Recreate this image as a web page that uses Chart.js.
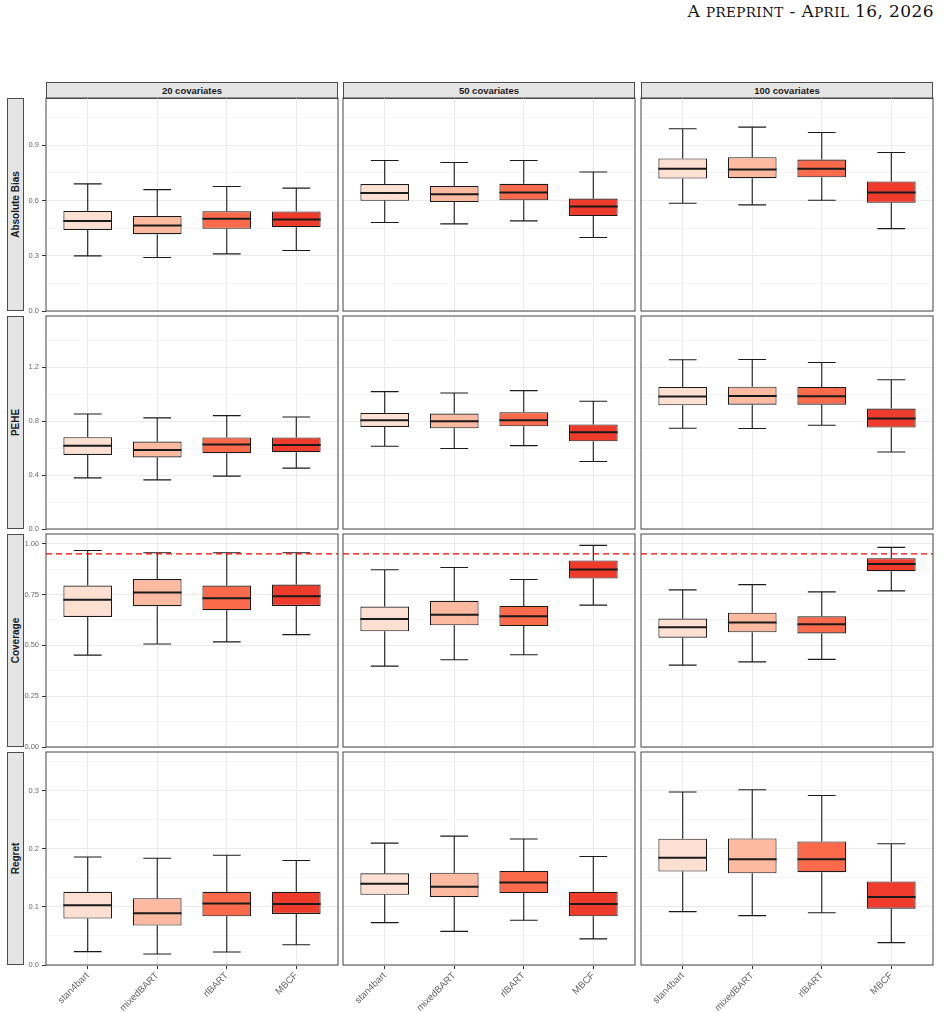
<!DOCTYPE html>
<html lang="en">
<head>
  <meta charset="UTF-8">
  <title>Boxplots by metric and number of covariates</title>
  <script src="https://cdn.jsdelivr.net/npm/chart.js"></script>
  <style>
        body {
            margin: 0;
            width: 943px;
            height: 1013px;
            background-color: #ffffff;
            position: relative;
            overflow: hidden;
            font-family: "Liberation Sans", Arial, sans-serif;
        }

        .header {
            position: absolute;
            right: 9px;
            top: 3px;
            font-family: "DejaVu Serif", "Liberation Serif", serif;
            font-size: 17px;
            letter-spacing: 0.4px;
            line-height: 1;
            color: #111;
            white-space: nowrap;
        }
        .header .sc { font-size: 13.5px; }

        .strip {
            position: absolute;
            box-sizing: border-box;
            background-color: #e5e5e5;
            border: 1px solid #4d4d4d;
            color: #1a1a1a;
            font-weight: bold;
            display: flex;
            align-items: center;
            justify-content: center;
            white-space: nowrap;
        }

        .strip.col { font-size: 9.5px; }
        .strip.row span {
            font-size: 10px;
            transform: rotate(-90deg);
        }

        canvas { position: absolute; }
    </style>
</head>
<body>
<div class="header">A <span class="sc">PREPRINT</span> - A<span class="sc">PRIL</span> 16, 2026</div>
<script>
    const methods = ['stan4bart', 'mixedBART', 'rlBART', 'MBCF'];
    const covariates = ['20 covariates', '50 covariates', '100 covariates'];
    const metrics = ['Absolute Bias', 'PEHE', 'Coverage', 'Regret'];
    const fills = ['#FEE0D2', '#FCBBA1', '#FB6A4A', '#EF3B2C'];

    // y axis per metric
    const yMax = [1.156, 1.578, 1.048, 0.367];
    const yTicks = [[0, 0.3, 0.6, 0.9], [0, 0.4, 0.8, 1.2], [0, 0.25, 0.5, 0.75, 1], [0, 0.1, 0.2, 0.3]];
    const yTickLabels = [['0.0', '0.3', '0.6', '0.9'], ['0.0', '0.4', '0.8', '1.2'],
                         ['0.00', '0.25', '0.50', '0.75', '1.00'], ['0.0', '0.1', '0.2', '0.3']];
    const coverageTarget = 0.95;

    // [lower whisker, q1, median, q3, upper whisker] per method
    const absBias20  = [[0.299, 0.440, 0.489, 0.543, 0.690], [0.290, 0.417, 0.464, 0.516, 0.659], [0.310, 0.446, 0.500, 0.542, 0.676], [0.328, 0.455, 0.496, 0.540, 0.667]];
    const absBias50  = [[0.480, 0.598, 0.641, 0.689, 0.817], [0.473, 0.591, 0.634, 0.678, 0.806], [0.489, 0.601, 0.643, 0.690, 0.817], [0.399, 0.515, 0.567, 0.610, 0.754]];
    const absBias100 = [[0.585, 0.719, 0.772, 0.828, 0.989], [0.576, 0.721, 0.768, 0.835, 0.998], [0.601, 0.726, 0.772, 0.822, 0.969], [0.447, 0.587, 0.643, 0.703, 0.860]];

    const pehe20  = [[0.379, 0.549, 0.616, 0.680, 0.852], [0.364, 0.530, 0.586, 0.648, 0.823], [0.392, 0.562, 0.626, 0.678, 0.840], [0.451, 0.569, 0.623, 0.678, 0.830]];
    const pehe50  = [[0.613, 0.756, 0.806, 0.860, 1.018], [0.596, 0.746, 0.798, 0.855, 1.008], [0.618, 0.761, 0.806, 0.865, 1.025], [0.500, 0.650, 0.717, 0.774, 0.946]];
    const pehe100 = [[0.746, 0.916, 0.981, 1.052, 1.254], [0.744, 0.921, 0.985, 1.054, 1.256], [0.769, 0.921, 0.983, 1.052, 1.234], [0.571, 0.752, 0.818, 0.892, 1.106]];

    const coverage20  = [[0.452, 0.640, 0.724, 0.794, 0.967], [0.507, 0.693, 0.760, 0.826, 0.956], [0.517, 0.673, 0.732, 0.794, 0.956], [0.553, 0.694, 0.742, 0.799, 0.956]];
    const coverage50  = [[0.398, 0.569, 0.630, 0.691, 0.872], [0.429, 0.599, 0.651, 0.719, 0.883], [0.454, 0.595, 0.643, 0.694, 0.824], [0.698, 0.829, 0.873, 0.918, 0.992]];
    const coverage100 = [[0.403, 0.538, 0.589, 0.632, 0.773], [0.419, 0.564, 0.612, 0.661, 0.799], [0.431, 0.559, 0.604, 0.643, 0.763], [0.768, 0.865, 0.900, 0.929, 0.982]];

    const regret20  = [[0.023, 0.080, 0.103, 0.126, 0.186], [0.019, 0.068, 0.089, 0.115, 0.184], [0.0225, 0.084, 0.106, 0.126, 0.189], [0.035, 0.088, 0.105, 0.126, 0.180]];
    const regret50  = [[0.073, 0.121, 0.140, 0.158, 0.210], [0.058, 0.117, 0.135, 0.159, 0.222], [0.077, 0.124, 0.142, 0.162, 0.217], [0.045, 0.084, 0.105, 0.126, 0.187]];
    const regret100 = [[0.092, 0.161, 0.185, 0.2175, 0.298], [0.085, 0.158, 0.182, 0.218, 0.302], [0.090, 0.160, 0.182, 0.213, 0.292], [0.0386, 0.097, 0.117, 0.144, 0.209]];

    const panels = [
        [absBias20, absBias50, absBias100],
        [pehe20, pehe50, pehe100],
        [coverage20, coverage50, coverage100],
        [regret20, regret50, regret100]
    ];

    // facet geometry
    const colLeft = [46, 343, 641];
    const rowTop = [98, 316, 534, 752];
    const panelW = 292, panelH = 213;
    const yAxisW = 23, xAxisH = 48, pad = 6;

    // whiskers, caps, medians, reference line, panel border
    const boxPlugin = {
        id: 'boxWhiskers',
        afterDatasetsDraw(chart) {
            const ctx = chart.ctx;
            const xs = chart.scales.x, ys = chart.scales.y;
            const ds = chart.data.datasets[0];
            const meta = chart.getDatasetMeta(0);
            ctx.save();
            ctx.strokeStyle = '#1a1a1a';
            meta.data.forEach((bar, i) => {
                const s = ds.data[i].stats;
                const x = bar.x;
                const half = bar.width / 2;
                ctx.lineWidth = 1.1;
                ctx.beginPath();
                ctx.moveTo(x, ys.getPixelForValue(s[3]));
                ctx.lineTo(x, ys.getPixelForValue(s[4]));
                ctx.moveTo(x, ys.getPixelForValue(s[1]));
                ctx.lineTo(x, ys.getPixelForValue(s[0]));
                const cl = xs.getPixelForValue(i - 0.2), cr = xs.getPixelForValue(i + 0.2);
                [s[0], s[4]].forEach(v => {
                    const y = ys.getPixelForValue(v);
                    ctx.moveTo(cl, y);
                    ctx.lineTo(cr, y);
                });
                ctx.stroke();
                ctx.lineWidth = 2;
                ctx.beginPath();
                const ym = ys.getPixelForValue(s[2]);
                ctx.moveTo(x - half, ym);
                ctx.lineTo(x + half, ym);
                ctx.stroke();
            });
            if (chart.options.refLine !== undefined) {
                const y = ys.getPixelForValue(chart.options.refLine);
                ctx.strokeStyle = '#ff0000';
                ctx.lineWidth = 1.3;
                ctx.setLineDash([6, 4]);
                ctx.beginPath();
                ctx.moveTo(chart.chartArea.left, y);
                ctx.lineTo(chart.chartArea.right, y);
                ctx.stroke();
                ctx.setLineDash([]);
            }
            const a = chart.chartArea;
            ctx.strokeStyle = '#444444';
            ctx.lineWidth = 1;
            ctx.strokeRect(a.left, a.top, a.right - a.left, a.bottom - a.top);
            ctx.restore();
        }
    };

    function addStrip(cls, left, top, width, height, text) {
        const d = document.createElement('div');
        d.className = 'strip ' + cls;
        d.style.left = left + 'px';
        d.style.top = top + 'px';
        d.style.width = width + 'px';
        d.style.height = height + 'px';
        const sp = document.createElement('span');
        sp.textContent = text;
        d.appendChild(sp);
        document.body.appendChild(d);
    }

    covariates.forEach((c, j) => addStrip('col', colLeft[j], 82, panelW, 17, c));
    metrics.forEach((m, r) => addStrip('row', 7, rowTop[r], 17, panelH, m));

    function drawPanel(r, j) {
        const stats = panels[r][j];
        const leftCol = j === 0;
        const bottomRow = r === metrics.length - 1;
        const leftSpace = leftCol ? yAxisW : pad;
        const canvas = document.createElement('canvas');
        const w = leftSpace + panelW + pad;
        const h = pad + panelH + (bottomRow ? xAxisH : pad);
        canvas.width = w;
        canvas.height = h;
        canvas.style.left = (colLeft[j] - leftSpace) + 'px';
        canvas.style.top = (rowTop[r] - pad) + 'px';
        document.body.appendChild(canvas);

        const majors = yTicks[r];
        const step = majors[1] - majors[0];
        const minors = majors.map(v => v + step / 2).filter(v => v < yMax[r]);

        new Chart(canvas.getContext('2d'), {
            type: 'bar',
            data: {
                datasets: [{
                    data: stats.map((s, i) => ({ x: i, y: [s[1], s[3]], stats: s })),
                    backgroundColor: fills,
                    borderColor: '#1a1a1a',
                    borderWidth: 1.1,
                    borderSkipped: false,
                    barPercentage: 0.7,
                    categoryPercentage: 1
                }]
            },
            options: {
                responsive: false,
                animation: false,
                refLine: r === 2 ? coverageTarget : undefined,
                layout: {
                    padding: { top: pad, right: pad, left: leftCol ? 0 : pad, bottom: bottomRow ? 0 : pad }
                },
                plugins: {
                    legend: { display: false },
                    tooltip: { enabled: false }
                },
                scales: {
                    x: {
                        type: 'linear',
                        offset: false,
                        min: -0.6,
                        max: methods.length - 0.4,
                        afterBuildTicks: s => { s.ticks = methods.map((m, i) => ({ value: i })); },
                        afterFit: s => {
                            s.height = bottomRow ? xAxisH : 0;
                            s.paddingLeft = s.paddingRight = s.paddingTop = s.paddingBottom = 0;
                        },
                        ticks: {
                            display: bottomRow,
                            autoSkip: false,
                            maxRotation: 45,
                            minRotation: 45,
                            padding: 1,
                            color: '#666666',
                            font: { family: 'Liberation Sans', size: 9.5 },
                            callback: v => methods[v]
                        },
                        grid: {
                            offset: false,
                            color: '#ebebeb',
                            lineWidth: 1,
                            drawTicks: bottomRow,
                            tickLength: 4,
                            tickColor: '#333333'
                        },
                        border: { display: false }
                    },
                    y: {
                        min: 0,
                        max: yMax[r],
                        afterBuildTicks: s => {
                            s.ticks = majors.map(v => ({ value: v }))
                                .concat(minors.map(v => ({ value: v, minor: true })))
                                .sort((a, b) => a.value - b.value);
                        },
                        afterFit: s => {
                            s.width = leftCol ? yAxisW : 0;
                            s.paddingLeft = s.paddingRight = s.paddingTop = s.paddingBottom = 0;
                        },
                        ticks: {
                            display: leftCol,
                            padding: 3,
                            color: '#6b6b6b',
                            font: { family: 'Liberation Sans', size: 7.5 },
                            callback: v => {
                                const k = majors.indexOf(v);
                                return k >= 0 ? yTickLabels[r][k] : '';
                            }
                        },
                        grid: {
                            color: c => (c.tick && c.tick.minor) ? '#f3f3f3' : '#ebebeb',
                            lineWidth: c => (c.tick && c.tick.minor) ? 0.8 : 1,
                            drawTicks: leftCol,
                            tickLength: 4,
                            tickColor: c => (c.tick && c.tick.minor) ? 'rgba(0,0,0,0)' : '#333333'
                        },
                        border: { display: false }
                    }
                }
            },
            plugins: [boxPlugin]
        });
    }

    metrics.forEach((m, r) => covariates.forEach((c, j) => drawPanel(r, j)));
</script>
</body>
</html>
